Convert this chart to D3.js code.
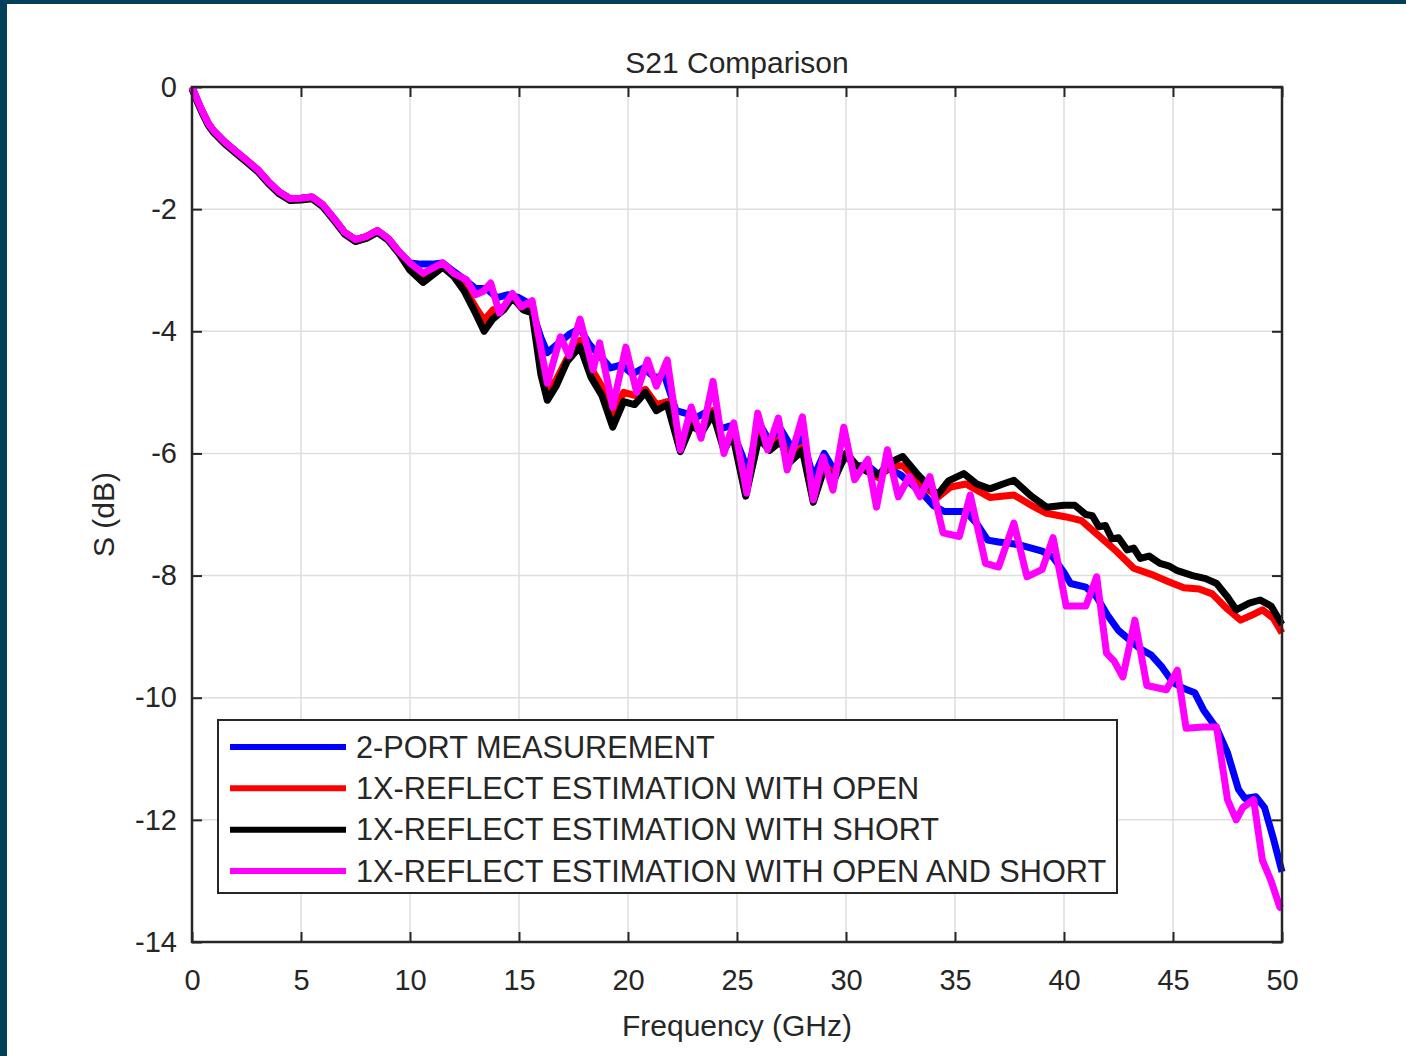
<!DOCTYPE html>
<html>
<head>
<meta charset="utf-8">
<script src="https://cdn.jsdelivr.net/npm/d3@7"></script>
<style>
  html, body { margin: 0; padding: 0; background: #fff; }
  body { width: 1406px; height: 1056px; overflow: hidden; }
  text { font-family: "Liberation Sans", Arial, Helvetica, sans-serif; fill: #262626; }
</style>
</head>
<body>
<script>
// tick values
var xTicks = [0, 5, 10, 15, 20, 25, 30, 35, 40, 45, 50];
var yTicks = [0, -2, -4, -6, -8, -10, -12, -14];

var seriesNames = ["2-PORT MEASUREMENT", "1X-REFLECT ESTIMATION WITH OPEN",
  "1X-REFLECT ESTIMATION WITH SHORT", "1X-REFLECT ESTIMATION WITH OPEN AND SHORT"];
var seriesColors = ["#0000ff", "#ff0000", "#000000", "#ff00ff"];

// [frequency GHz, S21 dB]
var lowBand = [[0,0],[0.25,-0.22],[0.5,-0.42],[0.75,-0.6],[1,-0.72],[1.5,-0.9],[2,-1.05],[2.5,-1.2],
  [3,-1.35],[3.5,-1.55],[4,-1.72],[4.5,-1.83],[5,-1.82],[5.5,-1.8],[6,-1.93],[6.5,-2.15],[7,-2.38],
  [7.5,-2.5],[8,-2.45],[8.5,-2.35],[9,-2.48],[9.5,-2.7]];

var twoPort = [[10,-2.88],[10.5,-2.9],[11,-2.9],[11.5,-2.88],[12,-3.02],[12.5,-3.15],[13,-3.3],[13.5,-3.3],
  [14,-3.45],[14.5,-3.4],[15,-3.45],[15.5,-3.55],[16,-4.1],[16.3,-4.35],[16.8,-4.2],[17.3,-4.05],[17.8,-3.95],
  [18.2,-4.2],[18.7,-4.4],[19.2,-4.6],[19.7,-4.55],[20.2,-4.7],[20.7,-4.6],[21.2,-4.75],[21.7,-4.75],
  [22.2,-5.3],[22.7,-5.35],[23.2,-5.4],[23.7,-5.3],[24.2,-5.6],[24.7,-5.55],[25.2,-6.0],[25.5,-6.3],
  [26,-5.5],[26.5,-5.8],[27,-5.6],[27.5,-5.9],[28,-5.75],[28.5,-6.4],[29,-6.0],[29.5,-6.3],[30,-6.05],
  [30.5,-6.2],[31,-6.2],[31.5,-6.35],[32,-6.25],[32.5,-6.35],[33,-6.5],[33.5,-6.65],[34,-6.85],[34.5,-6.95],
  [35,-6.95],[35.5,-6.95],[36,-7.15],[36.5,-7.42],[37,-7.45],[37.5,-7.47],[38,-7.5],[38.5,-7.55],[39,-7.6],
  [39.5,-7.7],[40,-7.95],[40.3,-8.13],[41,-8.19],[41.5,-8.35],[42,-8.65],[42.5,-8.9],[43,-9.05],[43.5,-9.2],
  [44,-9.3],[44.5,-9.5],[45,-9.75],[45.5,-9.85],[46,-9.92],[46.4,-10.2],[47,-10.5],[47.5,-10.9],[48,-11.5],
  [48.3,-11.65],[48.8,-11.62],[49.2,-11.8],[49.6,-12.3],[50,-12.85]];

var withOpen = [[10,-2.95],[10.6,-3.13],[11.5,-2.9],[12,-3.05],[12.5,-3.3],[13,-3.6],[13.4,-3.82],[13.8,-3.65],
  [14.3,-3.6],[14.7,-3.45],[15.2,-3.6],[15.6,-3.6],[16,-4.5],[16.3,-5.0],[16.7,-4.8],[17.2,-4.45],[17.8,-4.15],
  [18.3,-4.6],[18.8,-4.9],[19.3,-5.35],[19.8,-5.0],[20.3,-5.05],[20.8,-4.95],[21.3,-5.2],[21.8,-5.15],
  [22.4,-5.88],[22.9,-5.5],[23.4,-5.6],[23.9,-5.3],[24.4,-5.9],[24.8,-5.65],[25.4,-6.5],[26,-5.7],[26.5,-5.9],
  [27,-5.75],[27.4,-6.1],[28,-5.9],[28.5,-6.65],[29,-6.2],[29.5,-6.35],[30,-6.0],[30.5,-6.2],[31,-6.3],
  [31.5,-6.4],[32,-6.2],[32.6,-6.2],[33.3,-6.45],[34.2,-6.72],[34.8,-6.55],[35.5,-6.5],[36.6,-6.72],
  [37.7,-6.68],[38.5,-6.85],[39.2,-6.98],[40.1,-7.04],[40.8,-7.1],[41.6,-7.35],[42.4,-7.6],[43.2,-7.88],
  [44,-7.98],[44.8,-8.1],[45.5,-8.2],[46.2,-8.22],[46.8,-8.3],[47.5,-8.55],[48.1,-8.73],[48.6,-8.65],
  [49.1,-8.56],[49.6,-8.7],[50,-8.94]];

var withShort = [[10,-3.0],[10.6,-3.2],[11.5,-2.95],[12,-3.1],[12.5,-3.35],[13,-3.7],[13.4,-4.0],[13.8,-3.8],
  [14.3,-3.65],[14.7,-3.45],[15.2,-3.65],[15.6,-3.7],[16,-4.7],[16.3,-5.13],[16.7,-4.9],[17.2,-4.5],[17.8,-4.25],
  [18.3,-4.75],[18.8,-5.05],[19.3,-5.57],[19.8,-5.15],[20.3,-5.2],[20.8,-5.0],[21.3,-5.3],[21.8,-5.2],
  [22.4,-5.97],[22.9,-5.55],[23.4,-5.65],[23.9,-5.35],[24.4,-5.95],[24.8,-5.7],[25.4,-6.7],[26,-5.75],
  [26.5,-5.95],[27,-5.8],[27.4,-6.15],[28,-5.95],[28.5,-6.8],[29,-6.25],[29.5,-6.4],[30,-6.0],[30.5,-6.2],
  [31,-6.3],[31.5,-6.35],[32,-6.15],[32.6,-6.05],[33.3,-6.35],[34.2,-6.68],[34.7,-6.45],[35.4,-6.33],
  [36,-6.5],[36.6,-6.58],[37.2,-6.5],[37.7,-6.44],[38.5,-6.7],[39.2,-6.88],[40,-6.85],[40.5,-6.85],[41,-7.0],
  [41.3,-7.02],[41.6,-7.2],[41.9,-7.18],[42.2,-7.4],[42.5,-7.38],[42.9,-7.58],[43.2,-7.55],[43.5,-7.72],
  [43.9,-7.68],[44.4,-7.8],[44.8,-7.84],[45.2,-7.92],[45.9,-8.0],[46.5,-8.05],[47,-8.13],[47.5,-8.35],
  [47.9,-8.56],[48.5,-8.45],[49,-8.4],[49.5,-8.5],[50,-8.8]];

var openShort = [[10,-2.88],[10.6,-3.05],[11.5,-2.88],[12,-3.05],[12.6,-3.16],[13,-3.4],[13.35,-3.35],[13.7,-3.21],
  [14.1,-3.7],[14.7,-3.38],[15.1,-3.6],[15.6,-3.5],[16.3,-4.85],[16.9,-4.09],[17.3,-4.4],[17.8,-3.8],
  [18.4,-4.63],[18.7,-4.19],[19.3,-5.24],[19.9,-4.26],[20.4,-5.0],[20.9,-4.47],[21.3,-4.9],[21.8,-4.47],
  [22.4,-5.94],[22.9,-5.24],[23.35,-5.75],[23.9,-4.82],[24.4,-6.0],[24.85,-5.5],[25.45,-6.65],[25.95,-5.34],
  [26.4,-5.94],[26.9,-5.42],[27.3,-6.27],[28.0,-5.4],[28.5,-6.76],[28.95,-6.06],[29.4,-6.6],[29.9,-5.57],
  [30.4,-6.43],[31.0,-6.1],[31.4,-6.88],[31.9,-5.94],[32.4,-6.71],[32.9,-6.38],[33.4,-6.71],[33.85,-6.38],
  [34.45,-7.3],[35.2,-7.36],[35.7,-6.68],[36.4,-7.8],[37.0,-7.86],[37.7,-7.14],[38.3,-8.02],[39.0,-7.9],
  [39.5,-7.38],[40.1,-8.5],[41.0,-8.5],[41.5,-8.02],[41.95,-9.27],[42.3,-9.4],[42.7,-9.66],[43.25,-8.73],
  [43.8,-9.8],[44.7,-9.87],[45.2,-9.55],[45.6,-10.5],[46.4,-10.48],[47.0,-10.48],[47.5,-11.67],[47.9,-12.0],
  [48.2,-11.8],[48.7,-11.67],[49.1,-12.66],[49.5,-13.0],[49.9,-13.43],[50,-13.45]];

var seriesData = [
  lowBand.concat(twoPort),
  lowBand.concat(withOpen),
  lowBand.map(function(d) { return [d[0], d[1] - 0.03]; }).concat(withShort),
  lowBand.concat(openShort)
];

var W = 1406, H = 1056;
var margin = {left: 192, top: 87, right: 1406 - 1282, bottom: 1056 - 942};
var w = W - margin.left - margin.right;
var h = H - margin.top - margin.bottom;

var svg = d3.select("body").append("svg")
  .attr("width", W)
  .attr("height", H);

// dark frame at top and left
svg.append("rect").attr("x", 0).attr("y", 0).attr("width", W).attr("height", 4).attr("fill", "#023f59");
svg.append("rect").attr("x", 0).attr("y", 0).attr("width", 7).attr("height", H).attr("fill", "#023f59");

var x = d3.scaleLinear().domain([0, 50]).range([0, w]);
var y = d3.scaleLinear().domain([-14, 0]).range([h, 0]);

var g = svg.append("g").attr("transform", "translate(" + margin.left + "," + margin.top + ")");

// grid
g.selectAll(".gx").data(xTicks.slice(1, -1)).enter().append("line")
  .attr("x1", x).attr("x2", x).attr("y1", 0).attr("y2", h)
  .attr("stroke", "#dedede").attr("stroke-width", 1.5);
g.selectAll(".gy").data(yTicks.slice(1, -1)).enter().append("line")
  .attr("y1", y).attr("y2", y).attr("x1", 0).attr("x2", w)
  .attr("stroke", "#dedede").attr("stroke-width", 1.5);

// axes, ticks inward on all four sides
var tickLen = 10;
var plainFmt = function(d) { return String(d); };  // hyphen minus like the original
function styleAxis(sel) {
  sel.select(".domain").remove();
  sel.selectAll(".tick line").attr("stroke", "#262626").attr("stroke-width", 2);
  sel.selectAll(".tick text").style("font-size", "29px").attr("fill", "#262626");
}
g.append("g").attr("transform", "translate(0," + h + ")")
  .call(d3.axisBottom(x).tickValues(xTicks).tickSize(-tickLen).tickPadding(27).tickFormat(plainFmt))
  .call(styleAxis);
g.append("g")
  .call(d3.axisTop(x).tickValues(xTicks).tickSize(-tickLen).tickFormat(""))
  .call(styleAxis);
g.append("g")
  .call(d3.axisLeft(y).tickValues(yTicks).tickSize(-tickLen).tickPadding(15).tickFormat(plainFmt))
  .call(styleAxis);
g.append("g").attr("transform", "translate(" + w + ",0)")
  .call(d3.axisRight(y).tickValues(yTicks).tickSize(-tickLen).tickFormat(""))
  .call(styleAxis);

// data lines
g.append("clipPath").attr("id", "plotclip").append("rect")
  .attr("x", -4).attr("y", -4).attr("width", w + 8).attr("height", h + 8);

var line = d3.line()
  .x(function(d) { return x(d[0]); })
  .y(function(d) { return y(d[1]); });

g.selectAll(".series").data(seriesData).enter().append("path")
  .attr("d", line)
  .attr("fill", "none")
  .attr("stroke", function(d, i) { return seriesColors[i]; })
  .attr("stroke-width", 7)
  .attr("stroke-linejoin", "round")
  .attr("clip-path", "url(#plotclip)");

// box
g.append("rect").attr("x", 0).attr("y", 0).attr("width", w).attr("height", h)
  .attr("fill", "none").attr("stroke", "#262626").attr("stroke-width", 2.5);

// legend
var legend = svg.append("g");
legend.append("rect").attr("x", 218).attr("y", 720).attr("width", 899).attr("height", 173)
  .attr("fill", "#fff").attr("stroke", "#262626").attr("stroke-width", 2);
var legY = d3.scalePoint().domain(d3.range(seriesNames.length)).range([747, 871]);
var items = legend.selectAll(".item").data(seriesNames).enter().append("g");
items.append("line")
  .attr("x1", 230).attr("x2", 346)
  .attr("y1", function(d, i) { return legY(i); })
  .attr("y2", function(d, i) { return legY(i); })
  .attr("stroke", function(d, i) { return seriesColors[i]; })
  .attr("stroke-width", 6);
items.append("text")
  .attr("x", 356)
  .attr("y", function(d, i) { return legY(i); })
  .attr("dy", "0.35em")
  .style("font-size", "30.7px")
  .text(function(d) { return d; });

// titles
svg.append("text").attr("x", margin.left + w / 2).attr("y", 62).attr("dy", "0.35em")
  .attr("text-anchor", "middle").style("font-size", "30px").text("S21 Comparison");
svg.append("text").attr("x", margin.left + w / 2).attr("y", 1025).attr("dy", "0.35em")
  .attr("text-anchor", "middle").style("font-size", "30px").text("Frequency (GHz)");
svg.append("text").attr("transform", "translate(103," + (margin.top + h / 2) + ") rotate(-90)")
  .attr("dy", "0.35em").attr("text-anchor", "middle").style("font-size", "30px").text("S (dB)");
</script>
</body>
</html>
